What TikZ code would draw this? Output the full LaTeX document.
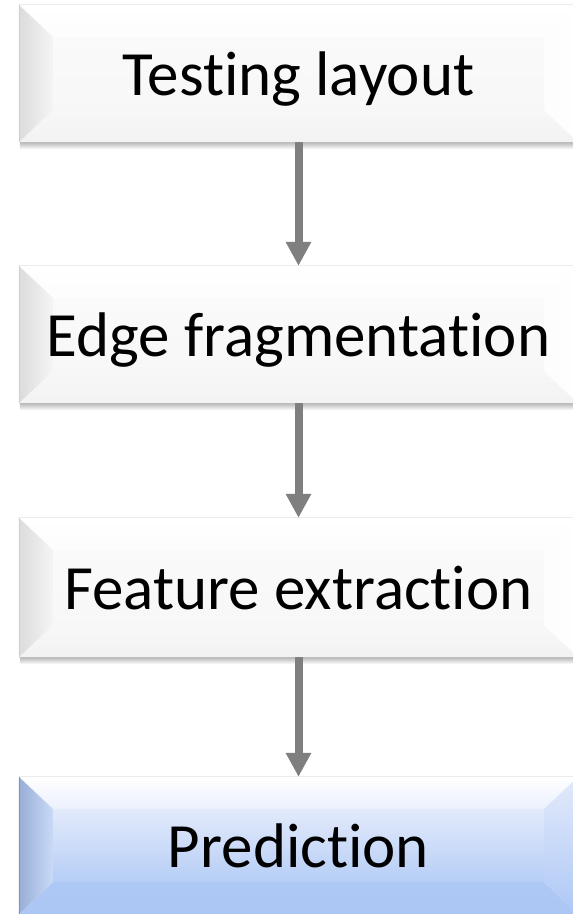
\documentclass[tikz,border=0pt]{standalone}
\usepackage{fontspec}
\setmainfont[Ligatures=NoCommon]{Carlito}
\usetikzlibrary{calc,arrows.meta,backgrounds}

\definecolor{arrowgray}{HTML}{7F7F7F}
\definecolor{bluetop}{HTML}{E2EAFB}
\definecolor{bluemid}{HTML}{C9DAF7}
\definecolor{bluebot}{HTML}{AEC8F5}
\definecolor{blueedge}{HTML}{98AED6}

% bevel widths (horizontal / vertical)
\newcommand\bevx{34pt}
\newcommand\bevy{32pt}

\tikzset{
  stagebox/.style={minimum width=559pt, minimum height=137pt, inner sep=0pt,
    text height=43pt, text depth=0pt, font=\fontsize{63}{75}\selectfont},
  flowarrow/.style={draw=arrowgray, line width=8pt,
    -{Triangle[width=24pt,length=24pt,fill=arrowgray]}},
  % plain grey bevel
  grey shadow/.style={top color=black!28, bottom color=white},
  grey center/.style={top color=black!2, bottom color=black!3},
  grey topface/.style={top color=white, bottom color=black!1},
  grey bottomface/.style={top color=black!3, bottom color=black!5},
  grey leftface/.style={left color=black!14, right color=black!4},
  grey rightface/.style={left color=black!1, right color=white},
  grey rim/.style={draw=black!8, line width=0.8pt},
  grey edge/.style={draw=black!18, line width=1pt},
  % blue bevel
  blue shadow/.style={top color=black!18, bottom color=white},
  blue center/.style={top color=bluetop, bottom color=bluebot!90!white},
  blue topface/.style={top color=white, bottom color=bluetop!70!white},
  blue bottomface/.style={top color=bluebot, bottom color=bluebot!95!blueedge},
  blue leftface/.style={left color=blueedge, right color=bluemid},
  blue rightface/.style={top color=bluetop, bottom color=bluebot},
  blue rim/.style={draw=black!8, line width=0.8pt},
  blue edge/.style={draw=blueedge!85!black, line width=1pt},
}

% draws the bevelled faces and the drop shadow of a stage node
\newcommand\bevelfaces[2]{%
  \shade[#2 shadow] ($(#1.south west)+(1pt,0)$) rectangle ($(#1.south east)+(0,-7pt)$);
  \shade[#2 center] ($(#1.north west)+(\bevx,-\bevy)$) rectangle ($(#1.south east)+(-\bevx,\bevy)$);
  \shade[#2 topface] (#1.north west) -- (#1.north east)
    -- ($(#1.north east)+(-\bevx,-\bevy)$) -- ($(#1.north west)+(\bevx,-\bevy)$) -- cycle;
  \shade[#2 bottomface] (#1.south west) -- (#1.south east)
    -- ($(#1.south east)+(-\bevx,\bevy)$) -- ($(#1.south west)+(\bevx,\bevy)$) -- cycle;
  \shade[#2 leftface] (#1.north west) -- ($(#1.north west)+(\bevx,-\bevy)$)
    -- ($(#1.south west)+(\bevx,\bevy)$) -- (#1.south west) -- cycle;
  \shade[#2 rightface] (#1.north east) -- ($(#1.north east)+(-\bevx,-\bevy)$)
    -- ($(#1.south east)+(-\bevx,\bevy)$) -- (#1.south east) -- cycle;
  \draw[#2 rim] (#1.north west) -- (#1.north east);
  \draw[#2 edge] ($(#1.north west)+(0.5pt,0)$) -- ($(#1.south west)+(0.5pt,0)$);
}

\begin{document}
\begin{tikzpicture}[x=1pt,y=1pt]
  \useasboundingbox (0,0) rectangle (573,-914);
  \clip (0,0) rectangle (573,-914);

  \node[stagebox] (s1) at (298.5,-73.5)  {Testing layout};
  \node[stagebox] (s2) at (298.5,-334.5) {Edge fragmentation};
  \node[stagebox, minimum height=139pt] (s3) at (298.5,-587.5) {Feature extraction};
  \node[stagebox] (s4) at (298.5,-845.5) {Prediction};

  \begin{scope}[on background layer]
    \fill[white] (0,0) rectangle (573,-914);
    \bevelfaces{s1}{grey}
    \bevelfaces{s2}{grey}
    \bevelfaces{s3}{grey}
    \bevelfaces{s4}{blue}
  \end{scope}

  \draw[flowarrow] (s1.south) -- (s2.north);
  \draw[flowarrow] (s2.south) -- (s3.north);
  \draw[flowarrow] (s3.south) -- (s4.north);
\end{tikzpicture}
\end{document}
